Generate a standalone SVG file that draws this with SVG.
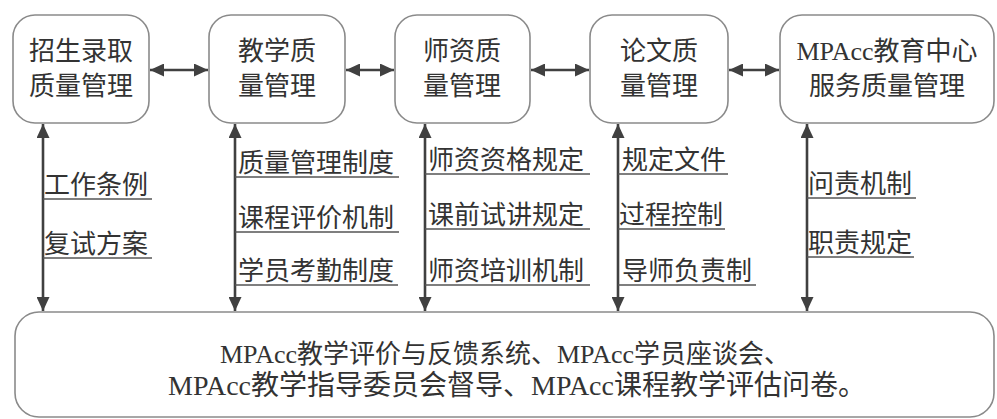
<svg xmlns="http://www.w3.org/2000/svg" width="997" height="419" viewBox="0 0 997 419">
<style>
.box{fill:#fff;stroke:#8a8a8a;stroke-width:1.6}
.t{font-family:"Liberation Serif","Noto Sans CJK SC",serif;font-size:26px;fill:#333;text-anchor:middle}
.lbl{font-family:"Liberation Serif","Noto Sans CJK SC",serif;font-size:26px;fill:#333}
.conn{stroke:#404040;stroke-width:2.6;fill:none;marker-start:url(#ah);marker-end:url(#ah)}
.ul{stroke:#555;stroke-width:1.4}
</style>
<defs>
<marker id="ah" markerUnits="userSpaceOnUse" markerWidth="15" markerHeight="13" refX="14" refY="6.5" orient="auto-start-reverse" viewBox="0 0 15 13">
<path d="M0,0 L14,6.5 L0,13 z" fill="#404040"/>
</marker>
</defs>
<rect width="997" height="419" fill="#fff"/>
<g id="node-admission">
<rect class="box" x="13" y="15" width="136" height="108" rx="22"/>
<text class="t" x="81" y="60">招生录取</text>
<text class="t" x="81" y="95">质量管理</text>
</g>
<g id="node-teaching">
<rect class="box" x="209" y="15" width="136" height="108" rx="22"/>
<text class="t" x="277" y="60">教学质</text>
<text class="t" x="277" y="95">量管理</text>
</g>
<g id="node-faculty">
<rect class="box" x="395" y="15" width="135" height="108" rx="22"/>
<text class="t" x="462" y="60">师资质</text>
<text class="t" x="462" y="95">量管理</text>
</g>
<g id="node-thesis">
<rect class="box" x="590" y="15" width="138" height="108" rx="22"/>
<text class="t" x="659" y="60">论文质</text>
<text class="t" x="659" y="95">量管理</text>
</g>
<g id="node-center">
<rect class="box" x="780" y="15" width="214" height="108" rx="22"/>
<text class="t" x="887" y="60">MPAcc教育中心</text>
<text class="t" x="887" y="95">服务质量管理</text>
</g>
<g id="node-feedback">
<rect class="box" x="15" y="312" width="979" height="105" rx="24"/>
<text class="t" x="505" y="363">MPAcc教学评价与反馈系统、MPAcc学员座谈会、</text>
<text class="t" x="517" y="395" style="font-size:28px">MPAcc教学指导委员会督导、MPAcc课程教学评估问卷。</text>
</g>
<g id="connectors">
<line class="conn" x1="150" y1="70" x2="208" y2="70"/>
<line class="conn" x1="346" y1="70" x2="394" y2="70"/>
<line class="conn" x1="531" y1="70" x2="589" y2="70"/>
<line class="conn" x1="729" y1="70" x2="779" y2="70"/>
<line class="conn" x1="43" y1="124" x2="43" y2="311"/>
<line class="conn" x1="235" y1="124" x2="235" y2="311"/>
<line class="conn" x1="425" y1="124" x2="425" y2="311"/>
<line class="conn" x1="618" y1="124" x2="618" y2="311"/>
<line class="conn" x1="807" y1="124" x2="807" y2="311"/>
</g>
<g id="labels">
<text class="lbl" x="44" y="194">工作条例</text>
<line class="ul" x1="43" y1="199" x2="152" y2="199"/>
<text class="lbl" x="44" y="253">复试方案</text>
<line class="ul" x1="43" y1="258" x2="152" y2="258"/>
<text class="lbl" x="238" y="172">质量管理制度</text>
<line class="ul" x1="235" y1="177" x2="399" y2="177"/>
<text class="lbl" x="238" y="227">课程评价机制</text>
<line class="ul" x1="235" y1="232" x2="399" y2="232"/>
<text class="lbl" x="238" y="280">学员考勤制度</text>
<line class="ul" x1="235" y1="285" x2="398" y2="285"/>
<text class="lbl" x="428" y="169">师资资格规定</text>
<line class="ul" x1="425" y1="174" x2="590" y2="174"/>
<text class="lbl" x="428" y="224">课前试讲规定</text>
<line class="ul" x1="425" y1="229" x2="590" y2="229"/>
<text class="lbl" x="428" y="280">师资培训机制</text>
<line class="ul" x1="425" y1="285" x2="590" y2="285"/>
<text class="lbl" x="622" y="169">规定文件</text>
<line class="ul" x1="618" y1="174" x2="728" y2="174"/>
<text class="lbl" x="619" y="224">过程控制</text>
<line class="ul" x1="618" y1="229" x2="725" y2="229"/>
<text class="lbl" x="622" y="280">导师负责制</text>
<line class="ul" x1="618" y1="285" x2="756" y2="285"/>
<text class="lbl" x="808" y="193">问责机制</text>
<line class="ul" x1="807" y1="198" x2="916" y2="198"/>
<text class="lbl" x="808" y="252">职责规定</text>
<line class="ul" x1="807" y1="257" x2="914" y2="257"/>
</g>
</svg>
